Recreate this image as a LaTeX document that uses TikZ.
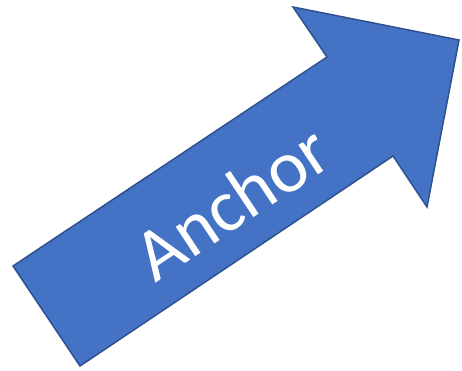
\documentclass[tikz,border=0pt]{standalone}
\usepackage{fontspec}
\setmainfont{Carlito}
\usepackage{tikz}
\definecolor{anchorBlue}{HTML}{4472C4}
\definecolor{anchorEdge}{HTML}{2F528F}

\begin{document}
\begin{tikzpicture}[x=1pt,y=-1pt,
   bigarrow/.style={fill=anchorBlue,draw=anchorEdge,line width=1.5pt},
   arrowtext/.style={text=white,font=\fontsize{74}{80}\selectfont,
                     rotate=33.6,inner sep=0pt}]
  \useasboundingbox (0,0) rectangle (462,370);
  \draw[bigarrow] (80,366) -- (13,266) -- (327,57) -- (293,7) -- (459,40)
    -- (427,207) -- (393,156) -- cycle;
  \node[arrowtext] (anchor) at (232,202) {Anchor};
\end{tikzpicture}
\end{document}
